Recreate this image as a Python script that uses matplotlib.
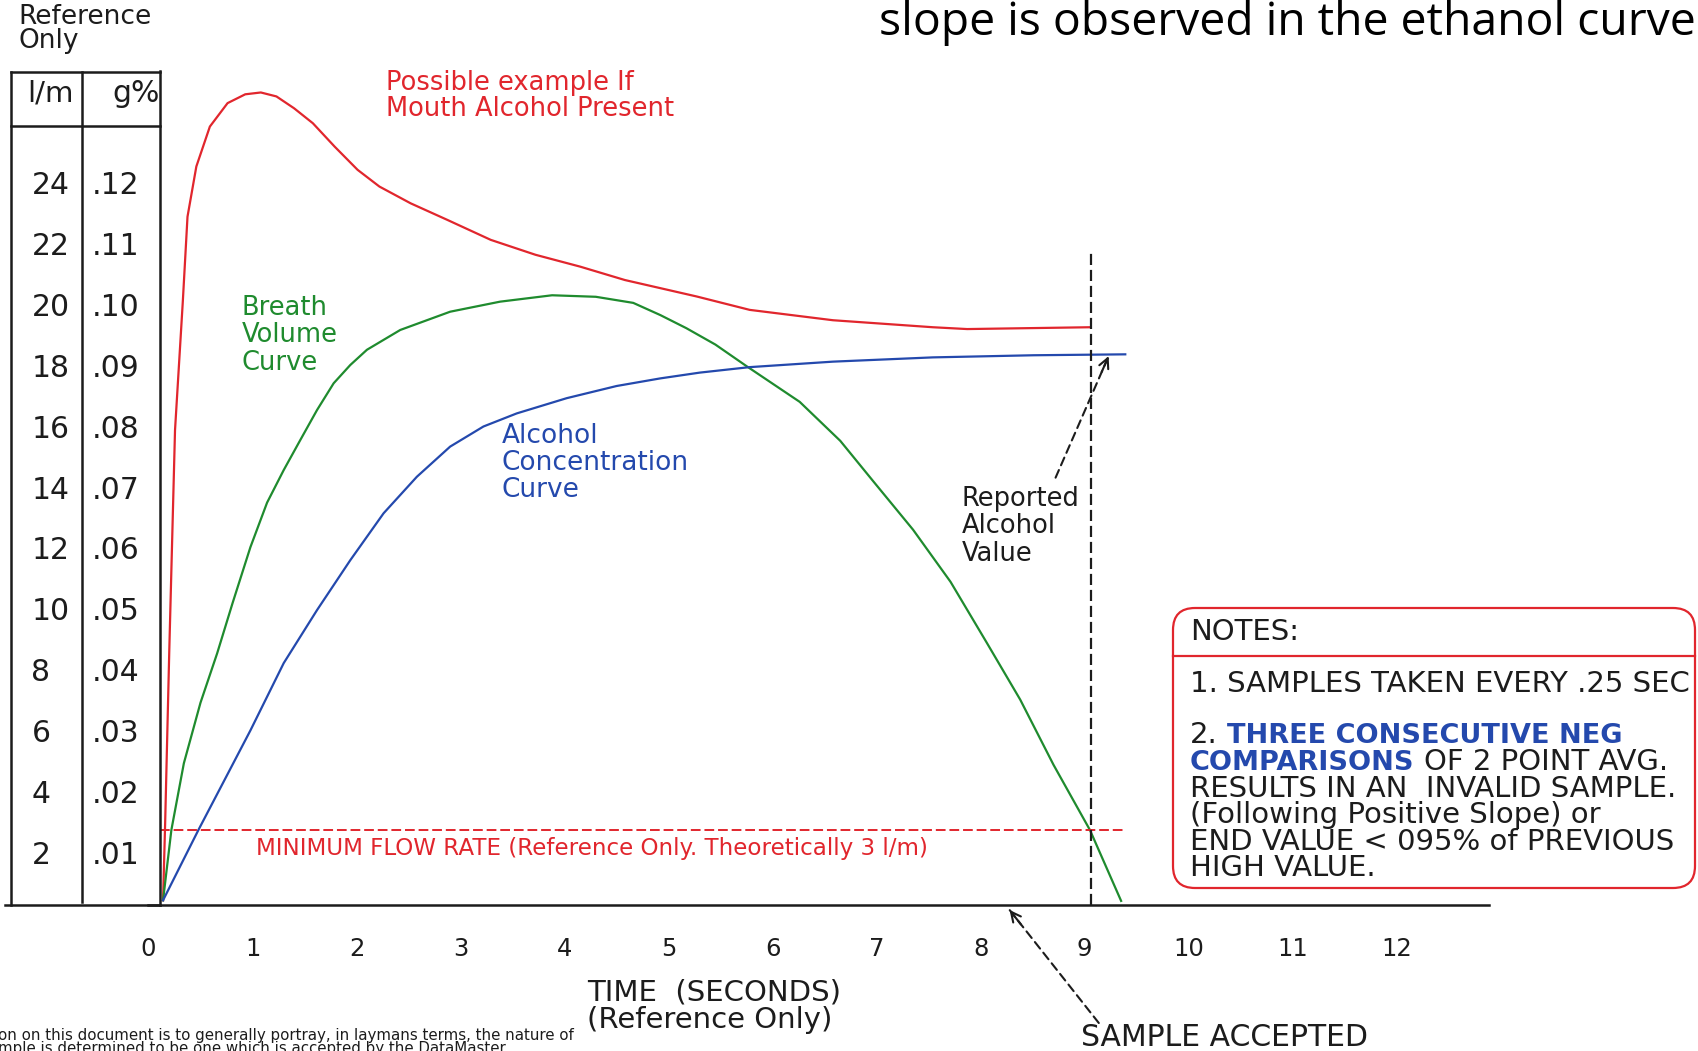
"""Breath test curves (mouth alcohol / breath volume / alcohol concentration) with notes box."""
import matplotlib
matplotlib.use("Agg")
import matplotlib.pyplot as plt
from matplotlib.lines import Line2D
from matplotlib.patches import FancyBboxPatch

W, H, DPI = 1699, 1051, 100

# ---- values: time (s) vs level (l/m) ----
mouth_t = [0.14, 0.16, 0.20, 0.255, 0.33, 0.375, 0.46, 0.59, 0.76, 0.93, 1.08, 1.23, 1.40,
           1.58, 1.79, 2.01, 2.22, 2.52, 2.87, 3.29, 3.72, 4.15, 4.58, 5.27, 5.78, 6.58,
           7.54, 7.87, 9.05]
mouth_v = [0.43, 2.95, 8.65, 15.87, 20.10, 22.88, 24.53, 25.84, 26.61, 26.90, 26.96, 26.83,
           26.44, 25.95, 25.18, 24.42, 23.87, 23.32, 22.78, 22.12, 21.63, 21.24, 20.80,
           20.26, 19.82, 19.48, 19.25, 19.19, 19.25]

breath_t = [0.14, 0.22, 0.34, 0.50, 0.66, 0.81, 0.98, 1.14, 1.30, 1.46, 1.62, 1.78, 1.94,
            2.10, 2.42, 2.90, 3.38, 3.88, 4.30, 4.66, 4.92, 5.17, 5.45, 5.75, 6.26, 6.65,
            6.97, 7.35, 7.71, 8.06, 8.38, 8.70, 9.05, 9.35]
breath_v = [0.43, 2.74, 4.93, 6.92, 8.54, 10.21, 12.03, 13.49, 14.56, 15.55, 16.53, 17.41,
            18.01, 18.51, 19.16, 19.76, 20.09, 20.30, 20.25, 20.05, 19.65, 19.22, 18.68,
            17.97, 16.80, 15.52, 14.18, 12.60, 10.89, 8.88, 7.02, 4.88, 2.74, 0.41]

alcohol_t = [0.14, 0.48, 0.98, 1.30, 1.62, 1.94, 2.26, 2.58, 2.90, 3.22, 3.54, 4.02, 4.50,
             4.92, 5.30, 5.78, 6.58, 7.54, 8.51, 9.39]
alcohol_v = [0.43, 2.74, 6.01, 8.22, 9.96, 11.60, 13.14, 14.34, 15.33, 15.99, 16.42, 16.92,
             17.32, 17.57, 17.76, 17.94, 18.12, 18.26, 18.33, 18.36]

time_ticks = list(range(13))
flow_ticks = [2, 4, 6, 8, 10, 12, 14, 16, 18, 20, 22, 24]
gpct_ticks = [0.01, 0.02, 0.03, 0.04, 0.05, 0.06, 0.07, 0.08, 0.09, 0.10, 0.11, 0.12]
gpct_labels = [".01", ".02", ".03", ".04", ".05", ".06", ".07", ".08", ".09", ".10", ".11", ".12"]

min_flow = 2.75            # drawn min flow line (l/m)
min_flow_end = 9.40
accept_t = 9.06            # sample accepted (dashed vertical)
accept_top = 21.7
reported_t, reported_v = 9.23, 18.3
reported_tail = (8.72, 14.31)

RED = "#e1262d"
GREEN = "#1f8b2e"
BLUE = "#2449ad"
INK = "#1c1c1c"

fig = plt.figure(figsize=(W / DPI, H / DPI), dpi=DPI, facecolor="white")
PIX = fig.dpi_scale_trans


def px(x, y):
    """pixel position on the full-size picture (origin top-left) -> figure inches"""
    return x / DPI, (H - y) / DPI


ax = fig.add_axes([0.0874, 0.1392, 0.7889, 0.7928])
ax.set_xlim(0, 12.885)
ax.set_ylim(0.285, 27.65)
ax.set_facecolor("none")
for s in ("top", "right"):
    ax.spines[s].set_visible(False)
ax.spines["left"].set_position(("data", 0.115))
for s in ("left", "bottom"):
    ax.spines[s].set_linewidth(1.8)
    ax.spines[s].set_color(INK)

ax.set_xticks(time_ticks)
ax.tick_params(axis="x", length=0, pad=23, labelsize=17.5, labelcolor=INK)
ax.set_yticks(flow_ticks, labels=[str(v) for v in flow_ticks], ha="left")
ax.tick_params(axis="y", length=0, pad=92.9, labelsize=21.5, labelcolor=INK)

gax = ax.secondary_yaxis("left", functions=(lambda v: v / 200, lambda g: g * 200))
gax.set_ticks(gpct_ticks, labels=gpct_labels, ha="left")
gax.tick_params(length=0, pad=40.5, labelsize=21.5, labelcolor=INK)
gax.spines["left"].set_visible(False)

# curves
ax.plot(mouth_t, mouth_v, color=RED, lw=1.6, solid_joinstyle="round")
ax.plot(breath_t, breath_v, color=GREEN, lw=1.6, solid_joinstyle="round")
ax.plot(alcohol_t, alcohol_v, color=BLUE, lw=1.6, solid_joinstyle="round")

ax.hlines(min_flow, 0.115, min_flow_end, colors=RED, linestyles=(0, (5, 2)), lw=1.4)
ax.vlines(accept_t, 0.285, accept_top, colors=INK, linestyles=(0, (5, 2.2)), lw=1.6)

# reported alcohol value arrow (dashed shaft, solid head)
ax.annotate("", xy=(reported_t, reported_v), xytext=reported_tail,
            arrowprops=dict(arrowstyle="-", ls=(0, (4, 2.5)), lw=1.5, color=INK,
                            shrinkA=0, shrinkB=0))
ax.annotate("", xy=(reported_t, reported_v), xytext=(9.163, 17.78),
            arrowprops=dict(arrowstyle="->,head_length=0.7,head_width=0.35", lw=1.5,
                            color=INK, shrinkA=0, shrinkB=0))

# sample accepted arrow (below the axis)
ax.annotate("", xy=px(1009.6, 910), xycoords=PIX, xytext=px(1098.8, 1023), textcoords=PIX,
            arrowprops=dict(arrowstyle="-", ls=(0, (4, 2.5)), lw=1.5, color=INK,
                            shrinkA=0, shrinkB=0))
ax.annotate("", xy=px(1009.6, 910), xycoords=PIX, xytext=px(1021, 924.5), textcoords=PIX,
            arrowprops=dict(arrowstyle="->,head_length=0.7,head_width=0.35", lw=1.5,
                            color=INK, shrinkA=0, shrinkB=0))

# reference table on the left
table_lines = [
    ([11, 11], [71.5, 904.7]),
    ([82, 82], [71.5, 902]),
    ([11, 160.4], [71.5, 71.5]),
    ([11, 160.4], [125.7, 125.7]),
    ([5, 160.4], [904.7, 904.7]),
]
for xs, ys in table_lines:
    fig.add_artist(Line2D([x / DPI for x in xs], [(H - y) / DPI for y in ys],
                          transform=PIX, color=INK, lw=1.8))

fig.text(*px(18, 4), "Reference\nOnly", transform=PIX, va="top", ha="left",
         fontsize=19, linespacing=0.88, color=INK)
fig.text(*px(26.8, 101.7), "l/m", transform=PIX, va="baseline", fontsize=21, color=INK)
fig.text(*px(112, 101.7), "g%", transform=PIX, va="baseline", fontsize=21.5, color=INK)

# curve labels
fig.text(*px(386, 70.5), "Possible example If\nMouth Alcohol Present", transform=PIX,
         va="top", fontsize=18.5, linespacing=1.0, color=RED)
fig.text(*px(241.8, 295), "Breath\nVolume\nCurve", transform=PIX, va="top",
         fontsize=18.5, linespacing=1.07, color=GREEN)
fig.text(*px(502, 423), "Alcohol\nConcentration\nCurve", transform=PIX, va="top",
         fontsize=19, linespacing=1.04, color=BLUE)
fig.text(*px(961.7, 486), "Reported\nAlcohol\nValue", transform=PIX, va="top",
         fontsize=18.5, linespacing=1.07, color=INK)
fig.text(*px(255.5, 855), "MINIMUM FLOW RATE (Reference Only. Theoretically 3 l/m)",
         transform=PIX, va="baseline", fontsize=16.6, color=RED)
fig.text(*px(586.7, 979), "TIME  (SECONDS)\n(Reference Only)", transform=PIX, va="top",
         fontsize=21, linespacing=0.95, color=INK)
fig.text(*px(1081, 1046), "SAMPLE ACCEPTED", transform=PIX, va="baseline",
         fontsize=21.5, color=INK)
# footnote is cut by the page edge in the source scan
fig.text(*px(-2, 1028),
         "on on this document is to generally portray, in laymans terms, the nature of\n"
         "mple is determined to be one which is accepted by the DataMaster",
         transform=PIX, va="top", fontsize=10.8, linespacing=0.82, color=INK,
         family=["Liberation Sans Narrow", "DejaVu Sans"])
fig.text(*px(1696, 35), "slope is observed in the ethanol curve", transform=PIX,
         ha="right", va="baseline", fontsize=33.3, family="Open Sans", color="black")

# notes box
box = FancyBboxPatch(px(1173, 888), (1695 - 1173) / DPI, (888 - 608) / DPI,
                     boxstyle="round,pad=0,rounding_size=0.22", transform=PIX,
                     fc="none", ec=RED, lw=1.6)
fig.add_artist(box)
fig.add_artist(Line2D([11.73, 16.95], [(H - 656) / DPI] * 2, transform=PIX, color=RED, lw=1.6))

NOTE_FS = 21
BOLD_FS = 19.5
SPACE = 0.318 * NOTE_FS
fig.text(*px(1190, 640), "NOTES:", transform=PIX, va="baseline", fontsize=NOTE_FS, color=INK)
fig.text(*px(1190, 691.7), "1. SAMPLES TAKEN EVERY .25 SEC", transform=PIX, va="baseline",
         fontsize=NOTE_FS, color=INK)
t2 = fig.text(*px(1190, 743.3), "2.", transform=PIX, va="baseline", fontsize=NOTE_FS, color=INK)
ax.annotate("THREE CONSECUTIVE NEG", xy=(1, 0), xycoords=t2, xytext=(SPACE, 0),
            textcoords="offset points", va="bottom", ha="left", fontsize=BOLD_FS,
            fontweight="bold", color=BLUE)
t3 = fig.text(*px(1190, 770), "COMPARISONS", transform=PIX, va="baseline",
              fontsize=BOLD_FS, fontweight="bold", color=BLUE)
ax.annotate("OF 2 POINT AVG.", xy=(1, 0), xycoords=t3, xytext=(SPACE, 0),
            textcoords="offset points", va="bottom", ha="left", fontsize=NOTE_FS, color=INK)
rest = ["RESULTS IN AN  INVALID SAMPLE.", "(Following Positive Slope) or",
        "END VALUE < 095% of PREVIOUS", "HIGH VALUE."]
for i, line in enumerate(rest):
    fig.text(*px(1190, 796.6 + 26.6 * i), line, transform=PIX, va="baseline",
             fontsize=NOTE_FS, color=INK)

fig.savefig("out.png", dpi=DPI, facecolor="white")
